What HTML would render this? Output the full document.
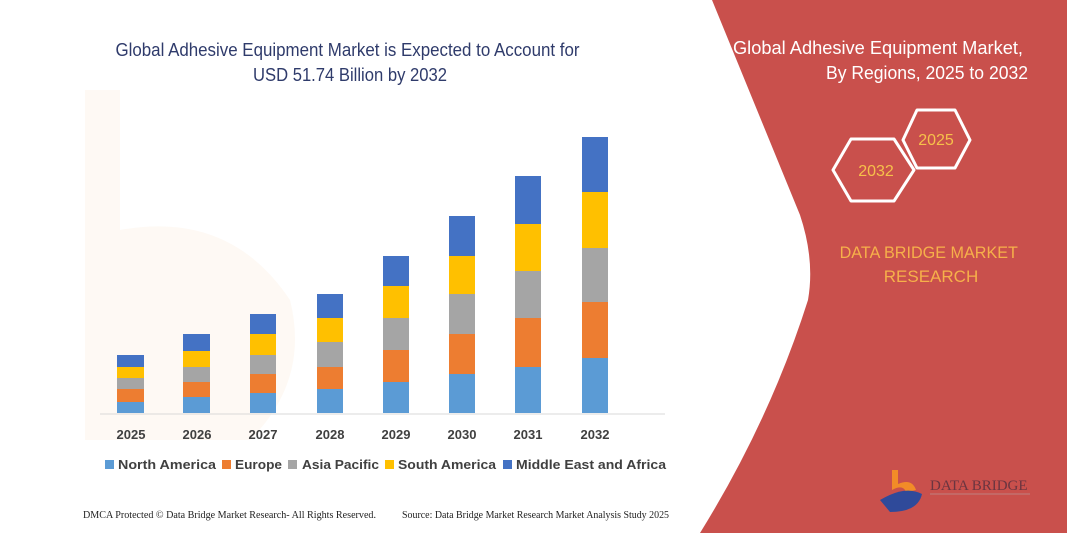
<!DOCTYPE html>
<html><head><meta charset="utf-8"><style>
html,body{margin:0;padding:0;background:#fff;}
svg{display:block;}
</style></head><body>
<svg width="1067" height="533" viewBox="0 0 1067 533" xmlns="http://www.w3.org/2000/svg">
<rect width="1067" height="533" fill="#fff"/>
<g opacity="0.05">
<path d="M85 90 L120 90 L120 230 Q230 210 290 300 Q310 380 250 440 L85 440 Z" fill="#f28c28"/>
</g>
<path d="M712 0 L1067 0 L1067 533 L700 533 Q770 420 808 300 Q815 260 800 215 Z" fill="#c9504c"/>
<text font-family="Liberation Sans, sans-serif" font-size="18" fill="#fff" text-anchor="end">
<tspan x="1028" y="54" textLength="290" lengthAdjust="spacingAndGlyphs">Global Adhesive Equipment Market,</tspan>
<tspan x="1028" y="79" textLength="202" lengthAdjust="spacingAndGlyphs">By Regions, 2025 to 2032</tspan></text>
<polygon points="917,110 955,110 970,140 955,168 917,168 903,140" fill="none" stroke="#fff" stroke-width="3" stroke-linejoin="round"/>
<text x="936" y="145" font-family="Liberation Sans, sans-serif" font-size="16" fill="#f6c04a" text-anchor="middle">2025</text>
<polygon points="851,139 894,139 914,170 894,201 851,201 833,170" fill="none" stroke="#fff" stroke-width="3" stroke-linejoin="round"/>
<text x="876" y="176" font-family="Liberation Sans, sans-serif" font-size="16" fill="#f6c04a" text-anchor="middle">2032</text>
<text font-family="Liberation Sans, sans-serif" font-size="17" fill="#f6b04a" text-anchor="middle">
<tspan x="931" y="258" textLength="178" lengthAdjust="spacingAndGlyphs">DATA BRIDGE MARKET</tspan>
<tspan x="931" y="282">RESEARCH</tspan></text>
<path d="M892 470 L898 470 L898 484 Q912 478 916 490 L906 492 Q903 484 892 490 Z" fill="#f28c28"/>
<path d="M880 500 Q905 485 922 494 Q918 512 890 512 Z" fill="#2f4a9a"/>
<text x="930" y="490" font-family="Liberation Serif, serif" font-size="15" fill="#6b3540">DATA BRIDGE</text>
<line x1="930" y1="494" x2="1030" y2="494" stroke="#c08080" stroke-width="1"/>
<text font-family="Liberation Sans, sans-serif" font-size="18" fill="#2f3b6b" text-anchor="middle">
<tspan x="350" y="56" textLength="464" lengthAdjust="spacingAndGlyphs">Global Adhesive Equipment Market is Expected to Account for</tspan>
<tspan x="350" y="81" textLength="194" lengthAdjust="spacingAndGlyphs">USD 51.74 Billion by 2032</tspan></text>
<line x1="100" y1="414" x2="665" y2="414" stroke="#d9d9d9" stroke-width="1"/>
<g>
<rect x="117" y="355" width="27" height="12" fill="#4472c4"/><rect x="117" y="367" width="27" height="11" fill="#ffc000"/><rect x="117" y="378" width="27" height="11" fill="#a5a5a5"/><rect x="117" y="389" width="27" height="13" fill="#ed7d31"/><rect x="117" y="402" width="27" height="11" fill="#5b9bd5"/>
<rect x="183" y="334" width="27" height="17" fill="#4472c4"/><rect x="183" y="351" width="27" height="16" fill="#ffc000"/><rect x="183" y="367" width="27" height="15" fill="#a5a5a5"/><rect x="183" y="382" width="27" height="15" fill="#ed7d31"/><rect x="183" y="397" width="27" height="16" fill="#5b9bd5"/>
<rect x="250" y="314" width="26" height="20" fill="#4472c4"/><rect x="250" y="334" width="26" height="21" fill="#ffc000"/><rect x="250" y="355" width="26" height="19" fill="#a5a5a5"/><rect x="250" y="374" width="26" height="19" fill="#ed7d31"/><rect x="250" y="393" width="26" height="20" fill="#5b9bd5"/>
<rect x="317" y="294" width="26" height="24" fill="#4472c4"/><rect x="317" y="318" width="26" height="24" fill="#ffc000"/><rect x="317" y="342" width="26" height="25" fill="#a5a5a5"/><rect x="317" y="367" width="26" height="22" fill="#ed7d31"/><rect x="317" y="389" width="26" height="24" fill="#5b9bd5"/>
<rect x="383" y="256" width="26" height="30" fill="#4472c4"/><rect x="383" y="286" width="26" height="32" fill="#ffc000"/><rect x="383" y="318" width="26" height="32" fill="#a5a5a5"/><rect x="383" y="350" width="26" height="32" fill="#ed7d31"/><rect x="383" y="382" width="26" height="31" fill="#5b9bd5"/>
<rect x="449" y="216" width="26" height="40" fill="#4472c4"/><rect x="449" y="256" width="26" height="38" fill="#ffc000"/><rect x="449" y="294" width="26" height="40" fill="#a5a5a5"/><rect x="449" y="334" width="26" height="40" fill="#ed7d31"/><rect x="449" y="374" width="26" height="39" fill="#5b9bd5"/>
<rect x="515" y="176" width="26" height="48" fill="#4472c4"/><rect x="515" y="224" width="26" height="47" fill="#ffc000"/><rect x="515" y="271" width="26" height="47" fill="#a5a5a5"/><rect x="515" y="318" width="26" height="49" fill="#ed7d31"/><rect x="515" y="367" width="26" height="46" fill="#5b9bd5"/>
<rect x="582" y="137" width="26" height="55" fill="#4472c4"/><rect x="582" y="192" width="26" height="56" fill="#ffc000"/><rect x="582" y="248" width="26" height="54" fill="#a5a5a5"/><rect x="582" y="302" width="26" height="56" fill="#ed7d31"/><rect x="582" y="358" width="26" height="55" fill="#5b9bd5"/>
</g>
<g font-family="Liberation Sans, sans-serif" font-size="13" font-weight="bold" fill="#404040" text-anchor="middle">
<text x="131" y="439">2025</text><text x="197" y="439">2026</text><text x="263" y="439">2027</text><text x="330" y="439">2028</text><text x="396" y="439">2029</text><text x="462" y="439">2030</text><text x="528" y="439">2031</text><text x="595" y="439">2032</text>
</g>
<g font-family="Liberation Sans, sans-serif" font-size="13" font-weight="bold" fill="#404040">
<rect x="105" y="460" width="9" height="9" fill="#5b9bd5"/><text x="118" y="469" textLength="98" lengthAdjust="spacingAndGlyphs">North America</text>
<rect x="222" y="460" width="9" height="9" fill="#ed7d31"/><text x="235" y="469" textLength="47" lengthAdjust="spacingAndGlyphs">Europe</text>
<rect x="288" y="460" width="9" height="9" fill="#a5a5a5"/><text x="302" y="469" textLength="77" lengthAdjust="spacingAndGlyphs">Asia Pacific</text>
<rect x="385" y="460" width="9" height="9" fill="#ffc000"/><text x="398" y="469" textLength="98" lengthAdjust="spacingAndGlyphs">South America</text>
<rect x="503" y="460" width="9" height="9" fill="#4472c4"/><text x="516" y="469" textLength="150" lengthAdjust="spacingAndGlyphs">Middle East and Africa</text>
</g>
<g font-family="Liberation Serif, serif" font-size="10" fill="#222">
<text x="83" y="518" textLength="293" lengthAdjust="spacingAndGlyphs">DMCA Protected © Data Bridge Market Research-  All Rights Reserved.</text>
<text x="402" y="518" textLength="267" lengthAdjust="spacingAndGlyphs">Source: Data Bridge Market Research  Market Analysis Study 2025</text>
</g>
</svg>
</body></html>
